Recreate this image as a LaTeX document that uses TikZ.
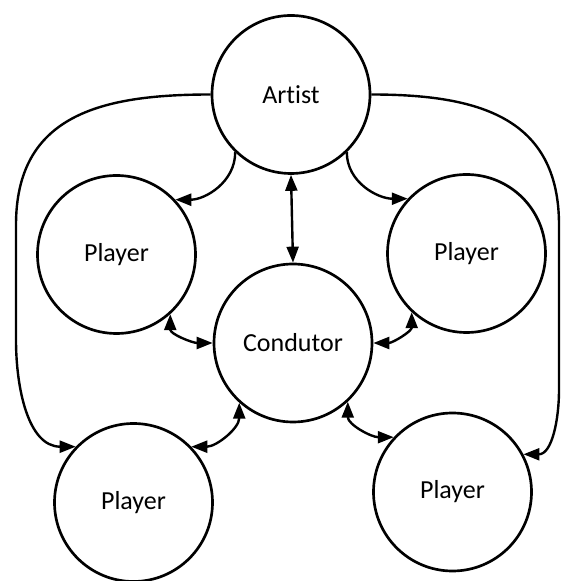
\documentclass[tikz,border=0pt]{standalone}
\usepackage{fontspec}
\setmainfont{Carlito}[RawFeature={-liga;-clig;-calt;-dlig;-rlig}]
\usetikzlibrary{arrows.meta}
\begin{document}
\begin{tikzpicture}[x=0.75pt,y=0.75pt,
  role/.style={circle,draw,line width=2pt,minimum size=118.5pt,inner sep=0pt,
    font=\fontsize{19.5}{23}\selectfont},
  conn/.style={line width=1.8pt,arrows={-Triangle[length=12pt,width=9pt]}},
  bconn/.style={line width=1.8pt,arrows={Triangle[length=12pt,width=9pt]-Triangle[length=12pt,width=9pt]}}]
\useasboundingbox (0,0) rectangle (562,581);
\node[role] (artist) at (291,486.5) {Ar\kern0pt tist};
\node[role] (pl) at (116.5,326.5) {Player};
\node[role] (pr) at (466.5,327.5) {Player};
\node[role] (cond) at (293,238) {Condutor};
\node[role] (pbl) at (133.5,78.5) {Player};
\node[role] (pbr) at (452.5,89) {Player};
\coordinate (L1) at (16,356);
\coordinate (L2) at (16,241);
\coordinate (R1) at (559,356);
\coordinate (R2) at (559,191);
% artist - conductor
\draw[bconn] (artist.south) -- (cond.north);
% artist to upper players
\draw[conn] (artist.-134) to[out=-90,in=0] (pl.43.5);
\draw[conn] (artist.-46) to[out=-90,in=180] (pr.137);
% long outer curves
\draw[conn] (artist.west) to[out=180,in=90,looseness=1.2] (L1) -- (L2) to[out=-90,in=180] (pbl.136);
\draw[conn] (artist.east) to[out=0,in=90,looseness=1.2] (R1) -- (R2) to[out=-90,in=0] (pbr.28);
% conductor links
\draw[bconn] (pl.-48) to[out=-90,in=180] (cond.west);
\draw[bconn] (pr.-133) to[out=-90,in=0] (cond.east);
\draw[bconn] (cond.-132) to[out=-90,in=0] (pbl.44);
\draw[bconn] (cond.-47) to[out=-90,in=180] (pbr.137);
\end{tikzpicture}
\end{document}
